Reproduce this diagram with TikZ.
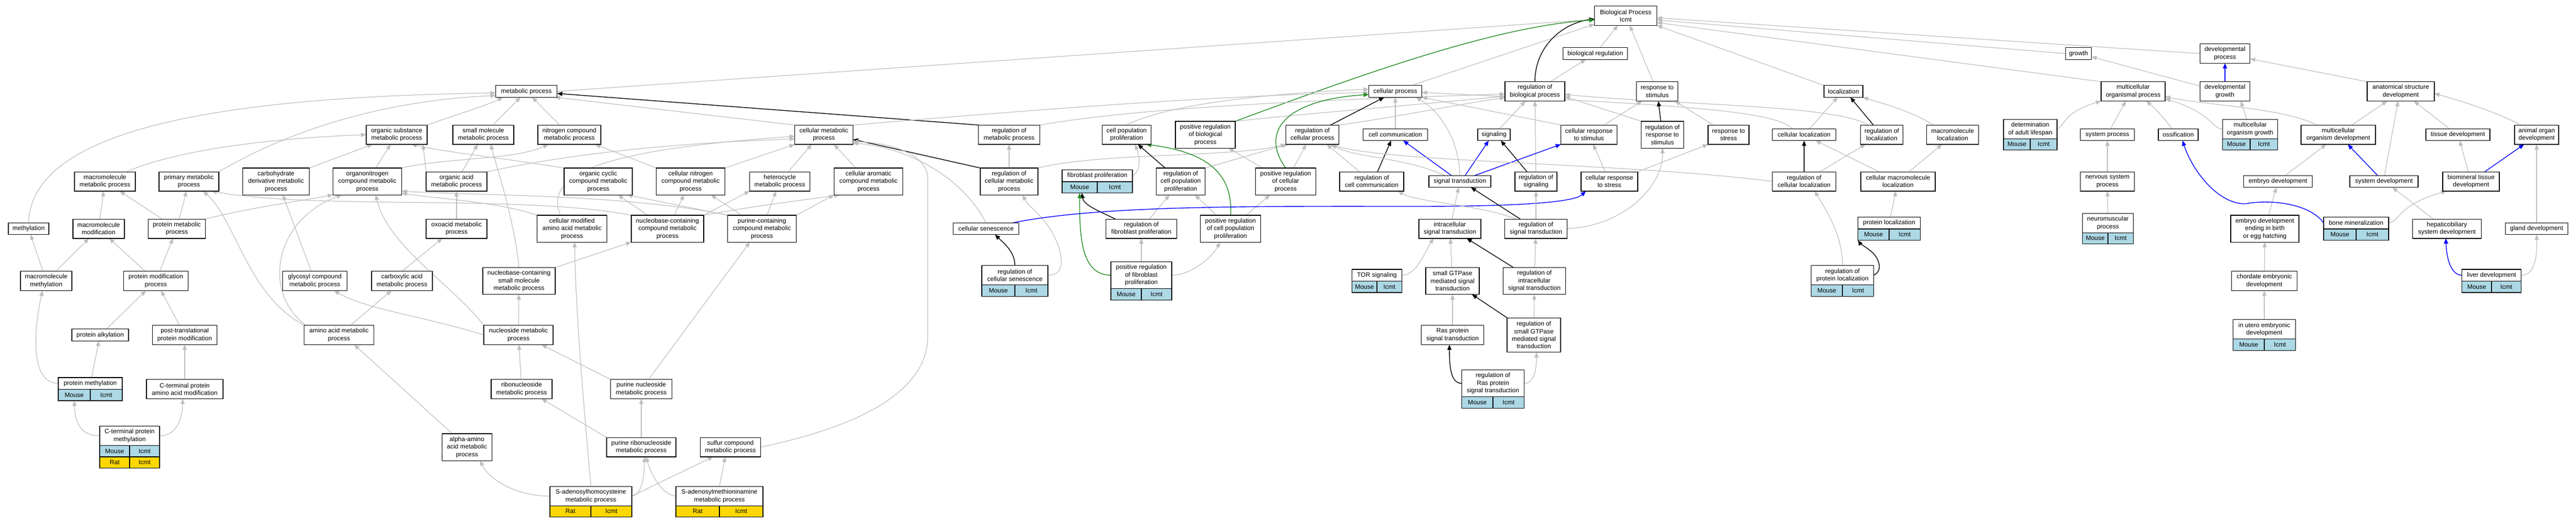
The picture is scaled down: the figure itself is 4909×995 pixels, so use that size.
\documentclass[tikz,border=0pt]{standalone}
\usepackage{fontspec}
\newfontfamily\gof{Liberation Sans}
\usetikzlibrary{arrows.meta,calc}
\definecolor{egrey}{RGB}{190,190,190}
\definecolor{eblue}{RGB}{0,0,255}
\definecolor{egreen}{RGB}{34,139,34}
\definecolor{mouseblue}{RGB}{173,216,230}
\definecolor{ratgold}{RGB}{255,215,0}
\pgfdeclarelayer{bgl}
\pgfdeclarelayer{edges}
\pgfsetlayers{bgl,edges,main}
\tikzset{
 gbox/.style={draw=black, line width=1.2bp, fill=white, align=center, inner sep=0pt, outer sep=0pt, font=\gof\fontsize{12bp}{14.4bp}\selectfont},
 ge/.style={draw=egrey, line width=1.2bp, -{Triangle[length=10bp,width=8bp]}},
 bk/.style={draw=black, line width=1.4bp, -{Triangle[length=10bp,width=8bp]}},
 bl/.style={draw=eblue, line width=1.4bp, -{Triangle[length=10bp,width=8bp]}},
 gr/.style={draw=egreen, line width=1.4bp, -{Triangle[length=10bp,width=8bp]}},
}
\newcommand{\gn}[6]{\node[gbox, minimum width=#4bp, minimum height=#5bp] (#1) at (#2,#3) {#6};}
\newcommand{\sprow}[7]{%
 \node[gbox, fill=#1, minimum width=#7bp/2, minimum height=21.6bp, anchor=north west] (#5) at (#3.south west) {#2};
 \node[gbox, fill=#1, minimum width=#7bp/2, minimum height=21.6bp, anchor=north east] (#6) at (#4.south east) {Icmt};}
\begin{document}
\begin{tikzpicture}[x=1bp,y=-1bp]
\useasboundingbox (0,0) rectangle (4909,995);
\begin{pgfonlayer}{bgl}
\fill[white] (0,0) rectangle (4909,995);
\end{pgfonlayer}
% R0 / R1
\gn{bp}{3098}{30}{119}{36.8}{Biological Process\\Icmt}
\gn{biolreg}{3040}{102}{123}{22.4}{biological regulation}
\gn{growth}{3961}{102}{49}{22.4}{growth}
\gn{devproc}{4240}{102}{95}{36.8}{developmental\\process}
% R2
\gn{met}{1003}{174}{117}{22.4}{metabolic process}
\gn{cellproc}{2659}{174}{101}{22.4}{cellular process}
\gn{regbio}{2925}{174}{114}{36.8}{regulation of\\biological process}
\gn{respstim}{3158}{174}{79}{36.8}{response to\\stimulus}
\gn{loc}{3513}{174}{74}{22.4}{localization}
\gn{multorgproc}{4065}{174}{122}{36.8}{multicellular\\organismal process}
\gn{devgrowth}{4240}{174}{95}{36.8}{developmental\\growth}
\gn{asd}{4575}{174}{128}{36.8}{anatomical structure\\development}
% R3
\gn{orgsub}{756}{256.5}{116}{36.8}{organic substance\\metabolic process}
\gn{smallmol}{921}{256.5}{116}{36.8}{small molecule\\metabolic process}
\gn{nitro}{1085}{256.5}{120}{36.8}{nitrogen compound\\metabolic process}
\gn{cellmet}{1570}{256.5}{111}{36.8}{cellular metabolic\\process}
\gn{regmet}{1923}{256.5}{117}{36.8}{regulation of\\metabolic process}
\gn{cellpop}{2147}{256.5}{93}{36.8}{cell population\\proliferation}
\gn{posregbio}{2297}{256.5}{114}{51.2}{positive regulation\\of biological\\process}
\gn{regcellproc}{2501}{256.5}{101}{36.8}{regulation of\\cellular process}
\gn{cellcomm}{2659}{256.5}{123}{22.4}{cell communication}
\gn{signaling}{2847}{256.5}{62}{22.4}{signaling}
\gn{crstim}{3028}{256.5}{107}{36.8}{cellular response\\to stimulus}
\gn{regrespstim}{3168}{256.5}{81}{51.2}{regulation of\\response to\\stimulus}
\gn{respstress}{3294}{256.5}{78}{36.8}{response to\\stress}
\gn{cellloc}{3438}{256.5}{121}{22.4}{cellular localization}
\gn{regloc}{3586}{256.5}{81}{36.8}{regulation of\\localization}
\gn{macloc}{3721}{256.5}{99}{36.8}{macromolecule\\localization}
\gn{dal}{3869}{245.7}{102}{36.8}{determination\\of adult lifespan}
\sprow{mouseblue}{Mouse}{dal}{dal}{dalA}{dalB}{102}
\gn{sysproc}{4016}{256.5}{103}{22.4}{system process}
\gn{ossif}{4151}{256.5}{76}{22.4}{ossification}
\gn{mog}{4288}{245.7}{105}{36.8}{multicellular\\organism growth}
\sprow{mouseblue}{Mouse}{mog}{mog}{mogA}{mogB}{105}
\gn{mod}{4456}{256.5}{142}{36.8}{multicellular\\organism development}
\gn{tissdev}{4684}{256.5}{122}{22.4}{tissue development}
\gn{aod}{4834}{256.5}{84}{36.8}{animal organ\\development}
% R4
\gn{macmet}{200}{345.5}{116}{36.8}{macromolecule\\metabolic process}
\gn{prim}{360}{345.5}{114}{36.8}{primary metabolic\\process}
\gn{carbder}{526}{345.5}{127}{51.2}{carbohydrate\\derivative metabolic\\process}
\gn{organo}{700}{345.5}{131}{51.2}{organonitrogen\\compound metabolic\\process}
\gn{orgacid}{870}{345.5}{116}{36.8}{organic acid\\metabolic process}
\gn{orgcyc}{1140}{345.5}{130}{51.2}{organic cyclic\\compound metabolic\\process}
\gn{cellnitro}{1316}{345.5}{131}{51.2}{cellular nitrogen\\compound metabolic\\process}
\gn{hetero}{1486}{345.5}{115}{36.8}{heterocycle\\metabolic process}
\gn{cellarom}{1655}{345.5}{131}{51.2}{cellular aromatic\\compound metabolic\\process}
\gn{regcellmet}{1923}{345.5}{110}{51.2}{regulation of\\cellular metabolic\\process}
\gn{fibro}{2091}{334.7}{134}{22.4}{fibroblast proliferation}
\sprow{mouseblue}{Mouse}{fibro}{fibro}{fibroA}{fibroB}{134}
\gn{regcellpop}{2250}{345.5}{93}{51.2}{regulation of\\cell population\\proliferation}
\gn{posregcellproc}{2450}{345.5}{115}{51.2}{positive regulation\\of cellular\\process}
\gn{regcellcomm}{2614}{345.5}{122}{36.8}{regulation of\\cell communication}
\gn{sigtrans}{2782}{345.5}{118}{22.4}{signal transduction}
\gn{regsig}{2927}{345.5}{80}{36.8}{regulation of\\signaling}
\gn{crstress}{3067}{345.5}{108}{36.8}{cellular response\\to stress}
\gn{regcellloc}{3438}{345.5}{121}{36.8}{regulation of\\cellular localization}
\gn{cellmacloc}{3617}{345.5}{142}{36.8}{cellular macromolecule\\localization}
\gn{nsp}{4016}{345.5}{103}{36.8}{nervous system\\process}
\gn{embdev}{4341}{345.5}{131}{22.4}{embryo development}
\gn{sysdev}{4543}{345.5}{130}{22.4}{system development}
\gn{btd}{4709}{345.5}{108}{36.8}{biomineral tissue\\development}
% R5
\gn{methylation}{54.5}{435.5}{77}{22.4}{methylation}
\gn{macmod}{188}{435.5}{98}{36.8}{macromolecule\\modification}
\gn{protmet}{337}{435.5}{109}{36.8}{protein metabolic\\process}
\gn{oxoacid}{870}{435.5}{116}{36.8}{oxoacid metabolic\\process}
\gn{cellmodaa}{1090}{435.5}{133}{51.2}{cellular modified\\amino acid metabolic\\process}
\gn{nbc}{1272}{435.5}{138}{51.2}{nucleobase-containing\\compound metabolic\\process}
\gn{pc}{1452}{435.5}{131}{51.2}{purine-containing\\compound metabolic\\process}
\gn{cellsen}{1879}{435.5}{125}{22.4}{cellular senescence}
\gn{regfibro}{2175}{435.5}{135}{36.8}{regulation of\\fibroblast proliferation}
\gn{posregcellpop}{2345}{435.5}{115}{51.2}{positive regulation\\of cell population\\proliferation}
\gn{intra}{2763}{435.5}{118}{36.8}{intracellular\\signal transduction}
\gn{regsigtrans}{2927}{435.5}{119}{36.8}{regulation of\\signal transduction}
\gn{protloc}{3600}{424.7}{119}{22.4}{protein localization}
\sprow{mouseblue}{Mouse}{protloc}{protloc}{protlocA}{protlocB}{119}
\gn{nmp}{4017}{424.7}{97}{36.8}{neuromuscular\\process}
\sprow{mouseblue}{Mouse}{nmp}{nmp}{nmpA}{nmpB}{97}
\gn{edb}{4316}{435.5}{130}{51.2}{embryo development\\ending in birth\\or egg hatching}
\gn{bonemin}{4490}{424.7}{124}{22.4}{bone mineralization}
\sprow{mouseblue}{Mouse}{bonemin}{bonemin}{boneminA}{boneminB}{124}
\gn{hep}{4663}{435.5}{131}{36.8}{hepaticobiliary\\system development}
\gn{glanddev}{4834}{435.5}{119}{22.4}{gland development}
% R6
\gn{macmeth}{88}{535}{98}{36.8}{macromolecule\\methylation}
\gn{protmod}{297}{535}{123}{36.8}{protein modification\\process}
\gn{glycosyl}{600}{535}{123}{36.8}{glycosyl compound\\metabolic process}
\gn{carbox}{766}{535}{116}{36.8}{carboxylic acid\\metabolic process}
\gn{nbsm}{989}{535}{138}{51.2}{nucleobase-containing\\small molecule\\metabolic process}
\gn{regcellsen}{1934}{524.2}{126}{36.8}{regulation of\\cellular senescence}
\sprow{mouseblue}{Mouse}{regcellsen}{regcellsen}{regcellsenA}{regcellsenB}{126}
\gn{posregfibro}{2175}{524.2}{116}{51.2}{positive regulation\\of fibroblast\\proliferation}
\sprow{mouseblue}{Mouse}{posregfibro}{posregfibro}{posregfibroA}{posregfibroB}{116}
\gn{tor}{2624}{524.2}{95}{22.4}{TOR signaling}
\sprow{mouseblue}{Mouse}{tor}{tor}{torA}{torB}{95}
\gn{sgtp}{2768}{535}{102}{51.2}{small GTPase\\mediated signal\\transduction}
\gn{regintra}{2924}{535}{119}{51.2}{regulation of\\intracellular\\signal transduction}
\gn{regprotloc}{3511}{524.2}{119}{36.8}{regulation of\\protein localization}
\sprow{mouseblue}{Mouse}{regprotloc}{regprotloc}{regprotlocA}{regprotlocB}{119}
\gn{chord}{4315}{535}{125}{36.8}{chordate embryonic\\development}
\gn{liverdev}{4748}{524.2}{113}{22.4}{liver development}
\sprow{mouseblue}{Mouse}{liverdev}{liverdev}{liverdevA}{liverdevB}{113}
% R7
\gn{protalk}{191}{638}{108}{22.4}{protein alkylation}
\gn{posttrans}{352}{638}{123}{36.8}{post-translational\\protein modification}
\gn{aa}{646}{638}{133}{36.8}{amino acid metabolic\\process}
\gn{nucleoside}{988}{638}{132}{36.8}{nucleoside metabolic\\process}
\gn{ras}{2768}{638}{119}{36.8}{Ras protein\\signal transduction}
\gn{regsgtp}{2923}{638}{102}{65.6}{regulation of\\small GTPase\\mediated signal\\transduction}
\gn{inutero}{4315}{627.2}{119}{36.8}{in utero embryonic\\development}
\sprow{mouseblue}{Mouse}{inutero}{inutero}{inuteroA}{inuteroB}{119}
% R8
\gn{protmeth}{172}{730.2}{122}{22.4}{protein methylation}
\sprow{mouseblue}{Mouse}{protmeth}{protmeth}{protmethA}{protmethB}{122}
\gn{ctpaam}{352}{741}{146}{36.8}{C-terminal protein\\amino acid modification}
\gn{ribo}{994}{741}{116}{36.8}{ribonucleoside\\metabolic process}
\gn{pn}{1222}{741}{117}{36.8}{purine nucleoside\\metabolic process}
\gn{regras}{2845}{730.2}{119}{51.2}{regulation of\\Ras protein\\signal transduction}
\sprow{mouseblue}{Mouse}{regras}{regras}{regrasA}{regrasB}{119}
% R9
\gn{ctpm}{247}{829.9}{114}{36.8}{C-terminal protein\\methylation}
\sprow{mouseblue}{Mouse}{ctpm}{ctpm}{ctpmA}{ctpmB}{114}
\sprow{ratgold}{Rat}{ctpmA}{ctpmB}{ctpmC}{ctpmD}{114}
\gn{alpha}{890}{851.5}{95}{51.2}{alpha-amino\\acid metabolic\\process}
\gn{pr}{1222}{851.5}{132}{36.8}{purine ribonucleoside\\metabolic process}
\gn{sulfur}{1392}{851.5}{115}{36.8}{sulfur compound\\metabolic process}
% R10
\gn{sah}{1126}{944.7}{156}{36.8}{S-adenosylhomocysteine\\metabolic process}
\sprow{ratgold}{Rat}{sah}{sah}{sahA}{sahB}{156}
\gn{samine}{1371}{944.7}{166}{36.8}{S-adenosylmethioninamine\\metabolic process}
\sprow{ratgold}{Rat}{samine}{samine}{samineA}{samineB}{166}

\begin{pgfonlayer}{edges}
% to Biological Process
\draw[ge] (met.east) -- ([yshift=-7bp]bp.west);
\draw[ge] ([xshift=-20bp]cellproc.north east) -- ([yshift=-16bp]bp.west);
\draw[bk] (regbio.north) .. controls (2925,90) and (2975,45) .. ([yshift=-6bp]bp.west);
\draw[gr] (posregbio.north east) .. controls (2600,140) and (2850,50) .. ([yshift=-8bp]bp.west);
\draw[ge] (biolreg) -- (bp);
\draw[ge] (respstim) -- (bp);
\draw[ge] (loc.north west) -- (bp.south east);
\draw[ge] (growth.west) -- ([yshift=-8bp]bp.east);
\draw[ge] (multorgproc.north west) -- ([yshift=-13bp]bp.east);
\draw[ge] (devproc.west) -- ([yshift=-4bp]bp.east);
% metabolic process
\draw[ge] (methylation.north) .. controls (60,250) and (400,185) .. ([yshift=-3bp]met.west);
\draw[ge] (prim.north east) .. controls (600,220) and (800,188) .. ([yshift=-8bp]met.west);
\draw[ge] (orgsub.north east) .. controls (850,225) and (930,200) .. ([xshift=14bp]met.south west);
\draw[ge] (smallmol) -- (met);
\draw[ge] (nitro) -- (met);
\draw[ge] (cellmet.north west) -- ([xshift=-4bp]met.south east);
\draw[bk] (regmet.north west) -- ([yshift=-4bp]met.east);
% organic substance
\draw[ge] ([xshift=-17bp]macmet.north east) .. controls (350,280) and (550,262) .. (orgsub.west);
\draw[ge] (carbder.north east) -- ([xshift=12bp]orgsub.south west);
\draw[ge] (organo) -- (orgsub);
\draw[ge] (orgcyc.north west) .. controls (950,300) and (850,290) .. ([xshift=-30bp]orgsub.south east);
\draw[ge] (orgacid.north west) -- ([xshift=-8bp]orgsub.south east);
% primary
\draw[ge] (protmet) -- (prim);
\draw[ge] (aa.north west) .. controls (470,560) and (450,420) .. ([xshift=27bp]prim.south);
\draw[ge] (nbc.north west) .. controls (1000,370) and (600,400) .. ([xshift=-14bp]prim.south east);
% organonitrogen
\draw[ge] (protmet.north east) .. controls (480,395) and (560,385) .. (organo.south west);
\draw[ge] ([xshift=4bp]aa.north west) .. controls (500,560) and (520,420) .. ([xshift=17bp]organo.south west);
\draw[ge] (nucleoside.north west) .. controls (860,540) and (740,470) .. ([xshift=16bp]organo.south);
\draw[ge] (cellmodaa.north west) .. controls (950,385) and (850,380) .. ([yshift=3bp]organo.south east);
\draw[ge] (pc.north west) .. controls (1200,370) and (900,372) .. ([yshift=7bp]organo.south east);
% carbohydrate derivative, macromolecule
\draw[ge] (glycosyl) -- ([xshift=13bp]carbder.south);
\draw[ge] (macmod) -- (macmet);
\draw[ge] (protmet) -- (macmet);
\draw[ge] (macmeth) -- (macmod);
\draw[ge] (protmod) -- (macmod);
\draw[ge] (macmeth) -- (methylation);
\draw[ge] (protmod) -- (protmet);
\draw[ge] (protmeth.west) .. controls (60,730) and (62,640) .. ([xshift=-7bp]macmeth.south);
\draw[ge] (protalk) -- (protmod);
\draw[ge] (posttrans) -- (protmod);
\draw[ge] (protmeth) -- (protalk);
\draw[ge] (ctpaam) -- (posttrans);
\draw[ge] (ctpm.west) .. controls (150,830) and (143,800) .. (protmethA.south);
\draw[ge] (ctpm.east) .. controls (340,830) and (348,790) .. ([xshift=-4bp]ctpaam.south);
% glycosyl, carboxylic, oxoacid, organic acid
\draw[ge] (nucleoside.west) .. controls (820,605) and (700,590) .. ([xshift=-25bp]glycosyl.south east);
\draw[ge] (aa) -- ([xshift=-20bp]carbox.south);
\draw[ge] (carbox.north) -- ([xshift=-27bp]oxoacid.south);
\draw[ge] (oxoacid) -- (orgacid);
\draw[ge] (orgacid) -- (smallmol);
\draw[ge] (orgacid.north east) .. controls (1100,290) and (1300,272) .. ([yshift=-8bp]cellmet.west);
\draw[ge] ([xshift=-28bp]alpha.north) -- ([xshift=29bp]aa.south);
% small molecule, nitrogen
\draw[ge] (nbsm.north) .. controls (980,420) and (950,330) .. ([xshift=14bp]smallmol.south);
\draw[ge] (organo.north east) .. controls (850,300) and (980,305) .. ([xshift=-40bp]nitro.south);
\draw[ge] (cellnitro.north west) -- ([xshift=49bp]nitro.south);
% cellular metabolic
\draw[ge] (cellnitro.north east) -- (cellmet.south west);
\draw[ge] (hetero) -- ([xshift=-23bp]cellmet.south);
\draw[ge] (cellarom) -- ([xshift=19bp]cellmet.south);
\draw[ge] ([xshift=-22bp]cellmodaa.north) .. controls (1035,330) and (1150,285) .. ([yshift=-3bp]cellmet.west);
\draw[bk] (regcellmet.north west) -- ([yshift=-9bp]cellmet.east);
\draw[ge] (sulfur.east) .. controls (1600,820) and (1768,760) .. (1768,640) -- (1768,340) .. controls (1768,295) and (1700,272) .. ([yshift=-13bp]cellmet.east);
\draw[ge] (cellsen.north) .. controls (1830,330) and (1720,280) .. ([yshift=-16bp]cellmet.east);
\draw[ge] (cellmet.north east) .. controls (1900,215) and (2300,182) .. ([yshift=-2bp]cellproc.west);
% compound classes
\draw[ge] (nbc) -- (orgcyc);
\draw[ge] (pc.north west) -- ([xshift=-10bp]orgcyc.south east);
\draw[ge] (nbc) -- (cellnitro);
\draw[ge] (pc) -- (cellnitro);
\draw[ge] (nbc.north east) -- (hetero.south west);
\draw[ge] (pc) -- (hetero);
\draw[ge] (nbc.north east) .. controls (1450,390) and (1540,380) .. ([xshift=-55bp]cellarom.south);
\draw[ge] (pc.north east) -- (cellarom.south west);
\draw[ge] (nbsm.north east) -- (nbc.south west);
\draw[ge] ([xshift=14bp]pn.north) -- ([xshift=-23bp]pc.south);
% nucleosides
\draw[ge] (nucleoside) -- (nbsm);
\draw[ge] (ribo) -- (nucleoside);
\draw[ge] (pn.north west) -- ([xshift=-22bp]nucleoside.south east);
\draw[ge] (pr.north west) -- ([xshift=-20bp]ribo.south east);
\draw[ge] (pr) -- (pn);
% S-adenosyl
\draw[ge] (sah.west) .. controls (980,945) and (930,910) .. ([xshift=25bp]alpha.south);
\draw[ge] (sah.north) .. controls (1115,800) and (1097,600) .. ([xshift=5bp]cellmodaa.south);
\draw[ge] (sah.east) .. controls (1225,943) and (1228,900) .. ([xshift=6bp]pr.south);
\draw[ge] (sah.east) -- ([xshift=-33bp]sulfur.south);
\draw[ge] (samine.west) .. controls (1260,943) and (1240,900) .. ([xshift=9bp]pr.south);
\draw[ge] (samine.north) -- ([xshift=-10bp]sulfur.south);
% regulation
\draw[ge] (regmet.north east) .. controls (2200,200) and (2600,188) .. ([yshift=-5bp]regbio.west);
\draw[ge] (regcellmet) -- (regmet);
\draw[ge] (regcellmet.north east) .. controls (2100,290) and (2350,300) .. (regcellproc.south west);
\draw[ge] (cellpop.north) .. controls (2230,195) and (2450,176) .. ([yshift=4bp]cellproc.west);
\draw[ge] (posregbio.north east) .. controls (2500,215) and (2700,200) .. ([yshift=-9bp]regbio.west);
\draw[ge] (fibro.east) .. controls (2175,325) and (2172,300) .. ([xshift=16bp]cellpop.south);
\draw[bk] ([xshift=18bp]regfibro.north west) .. controls (2090,400) and (2065,390) .. ([xshift=4bp]fibroA.south);
\draw[ge] (regfibro) -- (regcellpop);
\draw[ge] (posregcellpop) -- (regcellpop);
\draw[ge] (posregcellpop) -- (posregcellproc);
\draw[bk] (regcellpop) -- (cellpop);
\draw[ge] (regcellpop.north east) -- ([xshift=4bp]regcellproc.south west);
\draw[ge] (posregcellproc) -- (posregbio);
\draw[gr] (posregcellproc.north) .. controls (2400,250) and (2450,190) .. ([yshift=-6bp]cellproc.west);
\draw[ge] ([xshift=15bp]posregcellproc.north) -- ([xshift=-12bp]regcellproc.south);
\draw[gr] (posregcellpop.north) .. controls (2350,330) and (2300,290) .. ([xshift=37bp]cellpop.south);
\draw[gr] (posregfibro.west) .. controls (2060,524) and (2057,450) .. (fibroA.south);
\draw[ge] (posregfibro) -- (regfibro);
\draw[ge] (posregfibro.east) .. controls (2270,524) and (2310,490) .. ([xshift=-20bp]posregcellpop.south);
\draw[bk] (regcellsen.north) .. controls (1934,480) and (1915,465) .. ([xshift=17bp]cellsen.south);
\draw[ge] (regcellsen.east) .. controls (2025,524) and (2025,500) .. (2020,480) .. controls (2005,420) and (1960,395) .. ([xshift=26bp]regcellmet.south);
\draw[bl] ([xshift=51bp]cellsen.north) .. controls (2100,390) and (2400,393) .. (2700,393) .. controls (2900,393) and (3000,385) .. ([xshift=-45bp]crstress.south);
% cellular process cluster
\draw[bk] ([xshift=-16bp]regcellproc.north east) -- ([xshift=-21bp]cellproc.south);
\draw[ge] (regcellproc.north east) .. controls (2650,225) and (2800,195) .. ([yshift=-12bp]regbio.west);
\draw[ge] (cellcomm) -- (cellproc);
\draw[ge] (sigtrans.north) .. controls (2780,260) and (2740,210) .. ([xshift=-11bp]cellproc.south east);
\draw[ge] (crstim.north west) -- (cellproc.south east);
\draw[ge] ([xshift=-22bp]cellloc.north) .. controls (3380,210) and (3200,200) .. ([yshift=-2bp]cellproc.east);
\draw[ge] (regbio) -- (biolreg);
\draw[ge] (signaling) -- ([xshift=-18bp]regbio.south);
\draw[ge] (regsig) -- (regbio);
\draw[bk] ([xshift=-17bp]regsig.north) -- ([xshift=13bp]signaling.south);
\draw[bl] ([xshift=10bp]sigtrans.north) -- ([xshift=-10bp]signaling.south);
\draw[bl] ([xshift=-16bp]sigtrans.north) -- ([xshift=15bp]cellcomm.south);
\draw[bl] ([xshift=28bp]sigtrans.north) -- (crstim.south west);
\draw[bk] ([xshift=11bp]regcellcomm.north) -- ([xshift=-8bp]cellcomm.south);
\draw[ge] ([xshift=-23bp]regcellcomm.north) -- ([xshift=27bp]regcellproc.south);
\draw[ge] ([xshift=-29bp]sigtrans.north) .. controls (2680,300) and (2580,300) .. ([xshift=37bp]regcellproc.south);
\draw[ge] (regcellloc.west) .. controls (3100,310) and (2650,310) .. ([xshift=33bp]regcellproc.south);
\draw[ge] (crstim) -- ([xshift=-29bp]respstim.south);
\draw[bk] (regrespstim) -- (respstim);
\draw[ge] (regrespstim.north west) -- ([yshift=-10bp]regbio.east);
\draw[ge] (respstress) -- ([xshift=34bp]respstim.south);
\draw[ge] (crstress) -- (crstim);
\draw[ge] (crstress.north east) -- (respstress.south west);
\draw[bk] ([xshift=-30bp]regsigtrans.north) -- ([xshift=21bp]sigtrans.south);
\draw[ge] (regsigtrans) -- (regsig);
\draw[ge] (regsigtrans.east) .. controls (3100,430) and (3170,350) .. (regrespstim.south);
\draw[ge] ([xshift=-38bp]regsigtrans.north) .. controls (2820,390) and (2700,385) .. ([xshift=50bp]regcellcomm.south);
\draw[ge] (intra) -- (sigtrans);
\draw[ge] (tor.east) .. controls (2700,524) and (2715,480) .. ([xshift=-31bp]intra.south);
\draw[ge] (sgtp) -- (intra);
\draw[bk] ([xshift=-40bp]regintra.north) -- ([xshift=32bp]intra.south);
\draw[ge] (regintra) -- (regsigtrans);
\draw[ge] (ras) -- (sgtp);
\draw[bk] (regsgtp.north west) -- ([xshift=37bp]sgtp.south);
\draw[ge] (regsgtp) -- (regintra);
\draw[bk] (regras.west) .. controls (2765,730) and (2762,700) .. ([xshift=-6bp]ras.south);
\draw[ge] (regras.east) .. controls (2925,730) and (2928,700) .. ([xshift=5bp]regsgtp.south);
% localization
\draw[ge] (cellloc) -- ([xshift=-11bp]loc.south);
\draw[bk] ([xshift=-16bp]regloc.north) -- ([xshift=13bp]loc.south);
\draw[ge] ([xshift=13bp]macloc.north west) .. controls (3640,210) and (3580,195) .. (loc.south east);
\draw[ge] ([xshift=-26bp]regloc.north) .. controls (3500,200) and (3200,200) .. ([yshift=-6bp]regbio.east);
\draw[bk] (regcellloc) -- (cellloc);
\draw[ge] ([xshift=30bp]regcellloc.north) -- ([xshift=-31bp]regloc.south);
\draw[ge] ([xshift=35bp]cellmacloc.north west) -- ([xshift=22bp]cellloc.south);
\draw[ge] ([xshift=21bp]cellmacloc.north) -- ([xshift=-20bp]macloc.south);
\draw[ge] (protloc) -- (cellmacloc);
\draw[bk] (regprotloc.east) .. controls (3590,515) and (3580,490) .. (3565,478) .. controls (3552,468) and (3545,464) .. (protlocA.south west);
\draw[ge] (regprotloc.north) .. controls (3512,450) and (3480,400) .. ([xshift=20bp]regcellloc.south);
% multicellular / development
\draw[ge] ([yshift=10bp]devgrowth.west) -- ([yshift=-6bp]growth.east);
\draw[bl] (devgrowth) -- (devproc);
\draw[ge] (asd.north west) -- ([yshift=-10bp]devproc.east);
\draw[ge] (dal.east) .. controls (3935,240) and (3930,215) .. (multorgproc.south west);
\draw[ge] (sysproc) -- ([xshift=-14bp]multorgproc.south);
\draw[ge] ([xshift=-12bp]ossif.north) .. controls (4125,225) and (4105,205) .. ([xshift=-36bp]multorgproc.south east);
\draw[ge] (mog.west) .. controls (4215,245) and (4215,215) .. ([yshift=-14bp]multorgproc.east);
\draw[ge] ([xshift=30bp]mod.north west) .. controls (4350,205) and (4200,200) .. ([yshift=-10bp]multorgproc.east);
\draw[ge] (mog) -- ([xshift=30bp]devgrowth.south);
\draw[ge] (nsp) -- (sysproc);
\draw[ge] (nmp) -- (nsp);
\draw[ge] ([xshift=26bp]mod.north) -- ([xshift=-26bp]asd.south);
\draw[ge] ([xshift=1bp]sysdev.north) -- ([xshift=-5bp]asd.south);
\draw[ge] ([xshift=-16bp]tissdev.north) -- ([xshift=25bp]asd.south);
\draw[ge] ([xshift=-30bp]aod.north) .. controls (4760,215) and (4700,195) .. ([yshift=-4bp]asd.east);
\draw[ge] ([xshift=14bp]embdev.north) -- ([xshift=-23bp]mod.south);
\draw[bl] ([xshift=-12bp]sysdev.north) -- ([xshift=18bp]mod.south);
\draw[ge] (btd) -- (tissdev);
\draw[bl] ([xshift=26bp]btd.north) -- ([xshift=-24bp]aod.south);
\draw[ge] (glanddev) -- (aod);
\draw[ge] (edb) -- (embdev);
\draw[ge] ([xshift=-26bp]hep.north) -- ([xshift=16bp]sysdev.south);
\draw[ge] (bonemin.east) .. controls (4575,420) and (4570,390) .. ([xshift=-47bp]btd.south);
\draw[bl] (bonemin.west) .. controls (4400,385) and (4320,380) .. (4280,388) .. controls (4230,390) and (4180,330) .. ([xshift=8bp]ossif.south);
\draw[bl] (liverdev.west) .. controls (4670,524) and (4662,490) .. ([xshift=-2bp]hep.south);
\draw[ge] (liverdev.east) .. controls (4830,524) and (4835,490) .. (glanddev.south);
\draw[ge] (chord) -- (edb);
\draw[ge] (inutero) -- (chord);
\end{pgfonlayer}
\end{tikzpicture}
\end{document}
